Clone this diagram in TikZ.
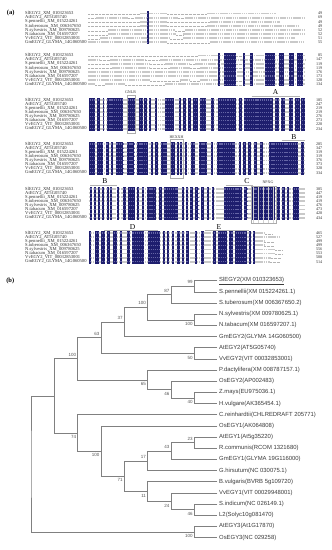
\documentclass[tikz,border=0pt]{standalone}
\usepackage{fontspec}
\setmainfont{Liberation Serif}
\newfontfamily\arialf{Liberation Sans}
\usetikzlibrary{calc}
\definecolor{navy}{RGB}{30,30,110}
\definecolor{navytex}{RGB}{100,100,165}
\definecolor{treeline}{RGB}{128,128,128}
\definecolor{leafc}{RGB}{60,60,60}
\definecolor{bsc}{RGB}{85,85,85}
\tikzset{
  lettex/.style={draw=gray!42, line width=1.8pt, dash pattern=on 1.6pt off 0.56pt},
  dottex/.style={draw=gray!60, line width=0.45pt, dash pattern=on 0.45pt off 0.9pt},
  darktex/.style={draw=navytex, line width=1.1pt, dash pattern=on 1.3pt off 0.86pt},
  seqname/.style={anchor=west, inner sep=0pt, text=gray!40!black, font=\fontsize{4.6}{5}\selectfont},
  seqnum/.style={anchor=east, inner sep=0pt, text=gray!40!black, font=\fontsize{4.2}{5}\selectfont},
  motif/.style={font=\fontsize{7.5}{8}\selectfont, inner sep=0pt, text=black},
  motifname/.style={font=\fontsize{4}{4.5}\selectfont, inner sep=0pt, text=gray!40!black},
  motifbar/.style={draw=gray!60, line width=0.9pt},
  motifbox/.style={draw=gray!65, line width=0.4pt},
  branch/.style={draw=treeline, line width=0.6pt},
  leaf/.style={anchor=west, inner sep=0pt, xshift=1.6pt, text=leafc, font=\arialf\fontsize{5.9}{6.5}\selectfont},
  bs/.style={anchor=east, inner sep=0pt, xshift=-1.3pt, text=bsc, font=\arialf\fontsize{4.5}{5}\selectfont},
  panel/.style={font=\bfseries\fontsize{6.5}{7}\selectfont, inner sep=0pt}
}
\newcommand\lsg[3]{\draw[lettex] (#2,#1) -- (#3,#1);}
\newcommand\dsg[3]{\draw[dottex] (#2,#1+0.9) -- (#3,#1+0.9);}
\newcommand\darkblock[2]{%
  \foreach \xa/\xb in {#2}{\fill[navy] (\xa,#1-2.05) rectangle (\xb,#1+30.75);}%
  \foreach \rr in {0,...,7}{\foreach \xa/\xb in {#2}{\draw[darktex] (\xa+0.4,#1+\rr*4.1) -- (\xb-0.4,#1+\rr*4.1);}}%
}
\newcommand\fullrows[3]{\foreach \rr in {0,...,7}{\draw[lettex] (#2,#1+\rr*4.1) -- (#3,#1+\rr*4.1);}}
\newcommand\seqnames[2]{%
  \foreach \nm [count=\i from 0] in {{SlEGY2\_XM\_010323653},{AtEGY2\_AT5G05740},{S.pennellii\_XM\_015224261},{S.tuberosum\_XM\_006367650},{N.sylvestris\_XM\_009780625},{N.tabacum\_XM\_016597207},{VvEGY2\_VIT\_00032853001},{GmEGY2\_GLYMA\_14G060500}}{\node[seqname] (nm#1\i) at (25,#2+\i*4.1) {\nm};}}
\newcommand\seqnums[3]{\foreach \nv [count=\i from 0] in {#3}{\node[seqnum] (nu#1\i) at (322.5,#2+\i*4.1) {\nv};}}
\newcommand\tn[4]{\path ($(#3)!0.5!(#4)$) coordinate (m#1); \coordinate (#1) at (K#2 |- m#1); \draw[branch] (#3) -| (#1) |- (#4);}
\newcommand\bu[2]{\node[bs, yshift=3.9pt] (lb#1) at (#1) {#2};}
\newcommand\bd[2]{\node[bs, yshift=-4.2pt] (lb#1) at (#1) {#2};}
\begin{document}
\begin{tikzpicture}[x=1pt,y=-1pt]
\useasboundingbox (0,0) rectangle (332,550);
\fill[white] (0,0) rectangle (332,550);
% ================= (a) alignment =================
\node[panel] (pa) at (10.7,13.4) {(a)};
% ---- block 1 ----
\dsg{13.5}{88}{140}\lsg{13.5}{140}{146.5}\lsg{13.5}{149.2}{167}\dsg{13.5}{167}{207}\lsg{13.5}{207}{276}
\dsg{17.6}{88}{96}\lsg{17.6}{96}{128}\dsg{17.6}{128}{135}\lsg{17.6}{135}{146.5}\lsg{17.6}{149.2}{178}\dsg{17.6}{178}{185}\lsg{17.6}{185}{305}
\dsg{21.7}{88}{140}\lsg{21.7}{140}{146.5}\lsg{21.7}{149.2}{167}\dsg{21.7}{167}{210}\lsg{21.7}{210}{280}
\dsg{25.8}{88}{140}\lsg{25.8}{140}{146.5}\lsg{25.8}{149.2}{167}\dsg{25.8}{167}{207}\lsg{25.8}{207}{298}
\dsg{29.9}{88}{108}\lsg{29.9}{108}{146.5}\lsg{29.9}{149.2}{175}\dsg{29.9}{175}{185}\lsg{29.9}{185}{305}
\dsg{34.0}{88}{108}\lsg{34.0}{108}{146.5}\lsg{34.0}{149.2}{176}\dsg{34.0}{176}{183}\lsg{34.0}{183}{305}
\dsg{38.1}{88}{100}\lsg{38.1}{100}{146.5}\lsg{38.1}{149.2}{170}\dsg{38.1}{170}{183}\lsg{38.1}{183}{295}
\lsg{42.2}{88}{146.5}\lsg{42.2}{149.2}{167}\dsg{42.2}{167}{210}\lsg{42.2}{210}{305}
\darkblock{13.5}{146.7/149}
\seqnames{a}{13.5}
\seqnums{a}{13.5}{49,69,49,49,52,52,51,55}
% ---- block 2 ----
\dsg{55.5}{88}{198}\lsg{55.5}{198}{236}\dsg{55.5}{236}{243}\lsg{55.5}{243}{305}
\lsg{59.6}{88}{100}\dsg{59.6}{100}{110}\lsg{59.6}{110}{145}\dsg{59.6}{145}{160}\lsg{59.6}{160}{305}
\dsg{63.7}{88}{110}\lsg{63.7}{110}{150}\dsg{63.7}{150}{165}\lsg{63.7}{165}{190}\dsg{63.7}{190}{195}\lsg{63.7}{195}{236}\dsg{63.7}{236}{243}\lsg{63.7}{243}{305}
\dsg{67.8}{88}{112}\lsg{67.8}{112}{150}\dsg{67.8}{150}{170}\lsg{67.8}{170}{190}\dsg{67.8}{190}{200}\lsg{67.8}{200}{236}\dsg{67.8}{236}{243}\lsg{67.8}{243}{305}
\lsg{71.9}{88}{305}
\lsg{76.0}{88}{305}
\lsg{80.1}{88}{150}\dsg{80.1}{150}{180}\lsg{80.1}{180}{190}\dsg{80.1}{190}{200}\lsg{80.1}{200}{236}\dsg{80.1}{236}{243}\lsg{80.1}{243}{305}
\lsg{84.2}{88}{95}\dsg{84.2}{95}{105}\lsg{84.2}{105}{125}\dsg{84.2}{125}{165}\lsg{84.2}{165}{236}\dsg{84.2}{236}{243}\lsg{84.2}{243}{305}
\darkblock{55.5}{218.3/220.3,224/235.7,243.3/244.7,250/252.7,265/275,279.3/284.3,288.7/293.7,297.3/303.3}
\seqnames{b}{55.5}
\seqnums{b}{55.5}{85,147,119,119,176,173,128,134}
% ---- block 3 ----
\fullrows{100}{88.5}{305}
\darkblock{100}{89.3/95.3,97.3/100,102.7/104,106.7/123.3,127/135.3,139.3/142.7,144.3/146.7,148.7/151.3,154.7/157.3,165/174.3,178.7/181.3,183.3/186,188.3/190.7,193.3/198.3,200/206,210.7/214,218.3/236,239.3/242,244/272.7,275/278.7,280.7/285.3,288.7/293.3,295.3/300,301.3/304.7}
\seqnames{c}{100}
\seqnums{c}{100}{185,247,219,219,276,273,228,234}
\draw[motifbox] (127,95.6) rectangle (135.3,133.3);
\node[motifname] (gnlr) at (130.5,92.2) {GNLR};
\draw[motifbar] (251.7,96.8) -- (300,96.8);
\node[motif] (mA) at (275.5,92.4) {A};
% ---- block 4 ----
\fullrows{144}{88.5}{305}
\darkblock{144}{89.3/95,97.3/102.7,106/108.7,110.7/113.3,116/123.3,126.7/134.3,136.7/148.3,150.7/152.7,155.3/158,160.7/167.3,170.7/174.7,176.7/178.7,180/182,185.3/187.3,190.7/195.3,198.7/206.7,210.7/212.7,216.7/235.3,238.7/240.7,243.3/245.7,248.3/250.7,254/256.7,260/262.7,268.7/298.3,300.7/304}
\seqnames{d}{144}
\seqnums{d}{144}{285,347,319,319,376,373,328,334}
\draw[motifbox] (170,139.6) rectangle (182.7,178);
\node[motifname] (hexxh) at (176.5,137.2) {HEXXH};
\draw[motifbar] (281.7,140.6) -- (305,140.6);
\node[motif] (mB1) at (294,136.6) {B};
% ---- block 5 ----
\fullrows{189}{88.5}{305}
\darkblock{189}{90/92,94/96,98.3/100,101.7/104,106.7/108.7,110/112,116.7/119.3,122.7/126,128.3/135,137.3/139.3,142/144,146.7/156,159.3/162,164/178.3,181.7/184,186/188,190/192.7,195.3/198.3,201.3/204,206.7/209.3,211.7/214,224/241.7,244/247.3,250.7/275,276.7/280,282/284.7,286.7/289.3,293.3/299.3}
\seqnames{e}{189}
\seqnums{e}{189}{385,447,419,419,476,473,428,434}
\draw[motifbar] (90,185.2) -- (116.7,185.2);
\node[motif] (mB2) at (105,181.4) {B};
\draw[motifbar] (225.5,185.2) -- (253.3,185.2);
\node[motif] (mC) at (247,181.4) {C};
\foreach \gx [count=\gi] in {253.3,258.3,263.3,268.3,273.3}{\draw[gray!35, line width=0.4pt] (\gx,187) -- (\gx,223.3);}
\draw[motifbox] (250.7,186.6) rectangle (276.5,223.3);
\node[motifname] (npxg) at (268,182.6) {NPXG};
% ---- block 6 ----
\fullrows{233}{88.5}{255}
\lsg{233}{255}{265}\dsg{233}{265}{273}
\lsg{237.1}{255}{279}
\lsg{241.2}{255}{264}\dsg{241.2}{264}{274}
\lsg{245.3}{255}{264}\dsg{245.3}{264}{274}
\lsg{249.4}{255}{275}\dsg{249.4}{275}{282}
\lsg{253.5}{255}{275}\dsg{253.5}{275}{282}
\lsg{257.6}{255}{271}\dsg{257.6}{271}{281}
\lsg{261.7}{255}{270}\dsg{261.7}{270}{280}
\darkblock{233}{89.3/91.3,95.3/98.7,101.3/105.3,107.3/110,113.3/117.3,120/122,126.7/130,132/144,148/160,163.3/165.3,167.3/169.3,172/174,176.7/180,182/184,186/188.7,194.7/196.7,200.7/204,213.3/216,218/226.7,228.7/233.3,235.3/246.7,248.7/250.7,252.7/255}
\seqnames{f}{233}
\seqnums{f}{233}{465,527,499,499,556,553,508,514}
\draw[motifbar] (104,230.4) -- (157.5,230.4);
\node[motif] (mD) at (132.7,226.6) {D};
\draw[motifbar] (205,230.4) -- (249,230.4);
\node[motif] (mE) at (219,226.6) {E};
% ================= (b) tree =================
\node[panel] (pb) at (10.3,280.6) {(b)};
\foreach \k in {0,...,7}{\coordinate (K\k) at (31+\k*23.3,0);}
\foreach \i in {0,...,23}{\coordinate (L\i) at (217.4,280.7+\i*11.17);}
\tn{n99}{7}{L0}{L1}
\tn{n87}{6}{n99}{L2}
\tn{nN}{7}{L3}{L4}
\tn{nSN}{5}{n87}{nN}
\tn{n37}{4}{nSN}{L5}
\tn{nAV}{7}{L6}{L7}
\tn{n63}{3}{n37}{nAV}
\tn{nZH}{7}{L10}{L11}
\tn{nOZ}{6}{L9}{nZH}
\tn{n65}{5}{L8}{nOZ}
\tn{nE2}{2}{n63}{n65}
\tn{n23}{7}{L14}{L15}
\tn{n43}{6}{n23}{L16}
\tn{n17}{5}{n43}{L17}
\tn{nSL}{7}{L20}{L21}
\tn{n24}{6}{L19}{nSL}
\tn{n11}{5}{L18}{n24}
\tn{n71}{4}{n17}{n11}
\tn{nE1}{3}{L13}{n71}
\tn{n74}{2}{L12}{nE1}
\tn{nA}{1}{nE2}{n74}
\tn{nE3}{7}{L22}{L23}
\tn{root}{0}{nA}{nE3}
\bu{n99}{99}\bu{n87}{87}\bd{nN}{100}\bu{nSN}{100}\bu{n37}{37}\bd{nAV}{50}\bu{n63}{63}
\bd{nZH}{40}\bd{nOZ}{46}\bd{n65}{65}\bu{nE2}{100}
\bu{n23}{23}\bu{n43}{43}\bu{n17}{17}\bd{nSL}{46}\bd{n24}{24}\bd{n11}{11}\bd{n71}{71}
\bd{nE1}{100}\bd{n74}{74}\bd{nE3}{100}
\node[leaf] (t0) at (L0) {\underline{SlEGY2(XM 010323653)}};
\foreach \lt [count=\i from 1] in {{S.pennellii(XM 015224261.1)},{S.tuberosum(XM 006367650.2)},{N.sylvestris(XM 009780625.1)},{N.tabacum(XM 016597207.1)},{GmEGY2(GLYMA 14G060500)},{AtEGY2(AT5G05740)},{VvEGY2(VIT 00032853001)},{P.dactylifera(XM 008787157.1)},{OsEGY2(AP002483)},{Z.mays(EU975036.1)},{H.vulgare(AK365454.1)},{C.reinhardtii(CHLREDRAFT 205771)},{OsEGY1(AK064808)},{AtEGY1(At5g35220)},{R.communis(RCOM 1321680)},{GmEGY1(GLYMA 19G116000)},{G.hirsutum(NC 030075.1)},{B.vulgaris(BVRB 5g109720)},{VvEGY1(VIT 00029948001)},{S.indicum(NC 026149.1)},{L2(Solyc10g081470)},{AtEGY3(At1G17870)},{OsEGY3(NC 029258)}}{\node[leaf] (t\i) at (L\i) {\lt};}
\end{tikzpicture}
\end{document}
